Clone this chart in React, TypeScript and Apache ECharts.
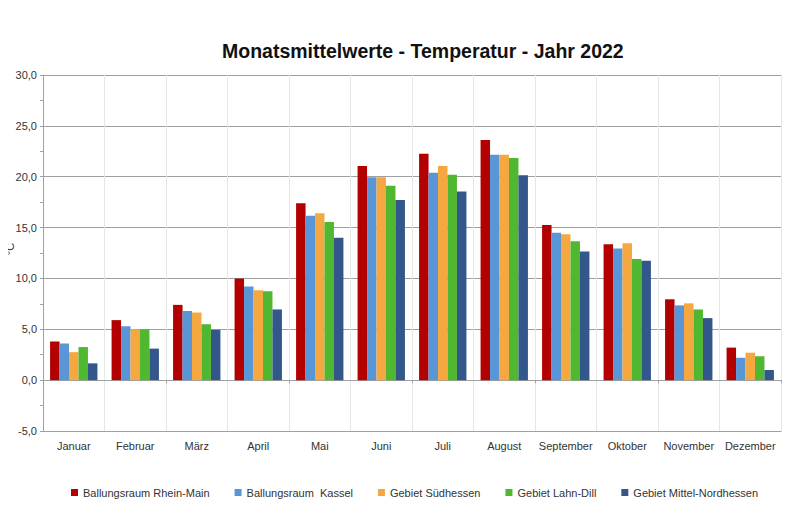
import React, { useEffect, useRef } from "react";
import * as echarts from "echarts";

const months = ["Januar", "Februar", "März", "April", "Mai", "Juni", "Juli", "August", "September", "Oktober", "November", "Dezember"];
const seriesNames = ["Ballungsraum Rhein-Main", "Ballungsraum  Kassel", "Gebiet Südhessen", "Gebiet Lahn-Dill", "Gebiet Mittel-Nordhessen"];
const rheinMain = [3.8, 5.9, 7.4, 10.0, 17.4, 21.05, 22.25, 23.6, 15.25, 13.35, 7.95, 3.2];
const kassel = [3.6, 5.3, 6.8, 9.2, 16.15, 19.95, 20.4, 22.15, 14.5, 12.95, 7.35, 2.2];
const suedhessen = [2.75, 5.0, 6.65, 8.85, 16.4, 19.95, 21.05, 22.15, 14.35, 13.45, 7.55, 2.7];
const lahnDill = [3.25, 5.0, 5.5, 8.75, 15.55, 19.1, 20.2, 21.85, 13.65, 11.9, 6.95, 2.35];
const mittelNord = [1.65, 3.1, 4.95, 6.95, 14.0, 17.7, 18.55, 20.15, 12.65, 11.75, 6.1, 1.0];
const colors = ["#b30000", "#5896d8", "#f6a840", "#50b830", "#33578a"];
const yAxisName = "°C";

export default function App() {
  const ref = useRef<HTMLDivElement>(null);
  useEffect(() => {
    if (!ref.current) return;
    const chart = echarts.init(ref.current, undefined, { renderer: "svg" });
    const data = [rheinMain, kassel, suedhessen, lahnDill, mittelNord];
    const font = "Liberation Sans, Arial, sans-serif";
    chart.setOption({
      animation: false,
      textStyle: { fontFamily: font },
      title: {
        text: "Monatsmittelwerte - Temperatur - Jahr 2022",
        left: 217,
        top: 36,
        textStyle: { fontSize: 19.5, fontWeight: "bold", color: "#111", fontFamily: font },
      },
      legend: {
        left: 66,
        top: 482,
        itemWidth: 7,
        itemHeight: 7,
        itemGap: 25,
        icon: "rect",
        textStyle: { fontSize: 11, color: "#333", fontFamily: font },
        data: seriesNames,
      },
      graphic: [
        {
          type: "text",
          x: 10,
          y: 249,
          rotation: Math.PI / 2,
          style: {
            text: yAxisName,
            fontSize: 11,
            fill: "#333",
            fontFamily: font,
            textAlign: "center",
            textVerticalAlign: "middle",
          },
        },
      ],
      grid: { left: 43, right: 18, top: 75, bottom: 88, outerBoundsMode: "none", containLabel: false },
      xAxis: [
        {
          type: "category",
          data: months,
          axisLine: { onZero: false, lineStyle: { color: "#a0a0a0" } },
          axisTick: { show: false },
          axisLabel: { fontSize: 11, color: "#333", margin: 9, interval: 0 },
          splitLine: { show: true, lineStyle: { color: "#e6e6e6", width: 1 } },
        },
        {
          type: "category",
          data: months,
          position: "bottom",
          axisLine: { onZero: true, lineStyle: { color: "#a0a0a0" } },
          axisTick: { show: true, length: 3, lineStyle: { color: "#a0a0a0" } },
          axisLabel: { show: false },
          splitLine: { show: false },
        },
      ],
      yAxis: {
        type: "value",
        min: -5,
        max: 30,
        interval: 5,
        axisLine: { show: true, lineStyle: { color: "#a0a0a0" } },
        axisTick: { show: true, length: 3, lineStyle: { color: "#a0a0a0" } },
        minorTick: { show: true, splitNumber: 2, length: 3, lineStyle: { color: "#a0a0a0" } },
        axisLabel: {
          fontSize: 11,
          color: "#333",
          margin: 6,
          formatter: (v: number) => v.toFixed(1).replace(".", ","),
        },
        splitLine: { show: true, lineStyle: { color: "#a0a0a0", width: 1 } },
      },
      series: seriesNames.map((name, i) => ({
        name,
        type: "bar",
        xAxisIndex: 0,
        data: data[i],
        barGap: "0%",
        barCategoryGap: "23%",
        itemStyle: { color: colors[i] },
      })),
    });
    return () => chart.dispose();
  }, []);
  return <div ref={ref} style={{ width: 799, height: 519, margin: -8 }} />;
}
